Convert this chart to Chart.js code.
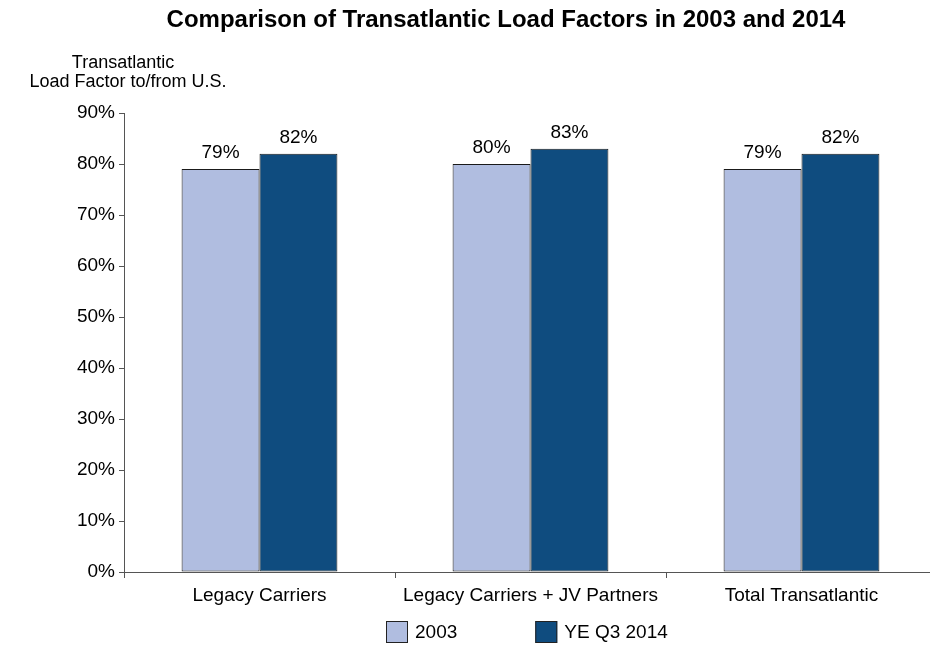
<!DOCTYPE html>
<html>
<head>
<meta charset="utf-8">
<script src="https://cdn.jsdelivr.net/npm/chart.js@4"></script>
<style>
  html, body { margin: 0; padding: 0; background: #fff; overflow: hidden; }
  /* plot runs slightly past the right edge, like the original */
  #wrap { width: 937px; height: 647px; position: relative; }
</style>
</head>
<body>
<div id="wrap"><canvas id="loadChart"></canvas></div>
<script>
const categories = ['Legacy Carriers', 'Legacy Carriers + JV Partners', 'Total Transatlantic'];
const series2003 = [79, 80, 79];
const series2014 = [82, 83, 82];
const seriesNames = ['2003', 'YE Q3 2014'];
const yTicks = [0, 10, 20, 30, 40, 50, 60, 70, 80, 90];

const FONT = "'Liberation Sans', Arial, Helvetica, sans-serif";
const colors = ['#b0bde0', '#0f4c7f'];

// title, axis caption, value labels and legend drawn by hand
const extras = {
    id: 'extras',
    afterDraw(chart) {
        const c = chart.ctx;
        c.save();
        c.fillStyle = '#000';
        c.textAlign = 'center';
        c.textBaseline = 'alphabetic';
        c.font = 'bold 24px ' + FONT;
        c.fillText('Comparison of Transatlantic Load Factors in 2003 and 2014', 506, 27);

        c.font = '18px ' + FONT;
        c.textBaseline = 'middle';
        c.fillText('Transatlantic', 123, 63);
        c.fillText('Load Factor to/from U.S.', 128, 82);

        // value labels
        c.font = '19px ' + FONT;
        c.textBaseline = 'alphabetic';
        chart.data.datasets.forEach((ds, i) => {
            chart.getDatasetMeta(i).data.forEach((bar, j) => {
                c.fillText(ds.data[j] + '%', bar.x, bar.y - 11);
            });
        });

        // legend
        const box = 22, gapText = 7, gapItem = 78;
        c.font = '19px ' + FONT;
        const widths = chart.data.datasets.map(ds => box + gapText + c.measureText(ds.label).width);
        const total = widths.reduce((a, b) => a + b, 0) + gapItem * (widths.length - 1);
        let x = Math.round(527 - total / 2);
        const y = 632;
        c.textAlign = 'left';
        c.textBaseline = 'middle';
        chart.data.datasets.forEach((ds, i) => {
            c.fillStyle = ds.backgroundColor;
            c.fillRect(x, y - box / 2, box, box);
            c.strokeStyle = '#222';
            c.lineWidth = 1;
            c.strokeRect(x + 0.5, y - box / 2 + 0.5, box - 1, box - 1);
            c.fillStyle = '#000';
            c.fillText(ds.label, x + box + gapText, y + 1);
            x += widths[i] + gapItem;
        });
        c.restore();
    }
};

const ctx = document.getElementById('loadChart').getContext('2d');
const loadChart = new Chart(ctx, {
    type: 'bar',
    data: {
        labels: categories,
        datasets: [{
            label: seriesNames[0],
            data: series2003,
            backgroundColor: colors[0],
            borderColor: '#1a1a1a',
            borderWidth: 1,
            borderSkipped: false,
            categoryPercentage: 0.575,
            barPercentage: 1
        }, {
            label: seriesNames[1],
            data: series2014,
            backgroundColor: colors[1],
            borderColor: '#1a1a1a',
            borderWidth: 1,
            borderSkipped: false,
            categoryPercentage: 0.575,
            barPercentage: 1
        }]
    },
    options: {
        responsive: true,
        maintainAspectRatio: false,
        animation: false,
        layout: { padding: { top: 113, bottom: 35, left: 0, right: 0 } },
        plugins: {
            legend: { display: false },
            title: { display: false },
            tooltip: { enabled: false }
        },
        scales: {
            y: {
                min: 0,
                max: 90,
                afterBuildTicks: axis => { axis.ticks = yTicks.map(v => ({ value: v })); },
                afterFit: axis => { axis.width = 124; },
                ticks: {
                    color: '#000',
                    font: { family: FONT, size: 19 },
                    padding: 4,
                    callback: v => v + '%'
                },
                grid: { drawOnChartArea: false, tickLength: 5, color: '#555' },
                border: { color: '#555' }
            },
            x: {
                afterFit: axis => { axis.height = 40; },
                ticks: {
                    color: '#000',
                    font: { family: FONT, size: 19 },
                    padding: 6,
                    maxRotation: 0
                },
                grid: { drawOnChartArea: false, tickLength: 6, color: '#555', offset: true },
                border: { color: '#555' }
            }
        }
    },
    plugins: [extras]
});
</script>
</body>
</html>
